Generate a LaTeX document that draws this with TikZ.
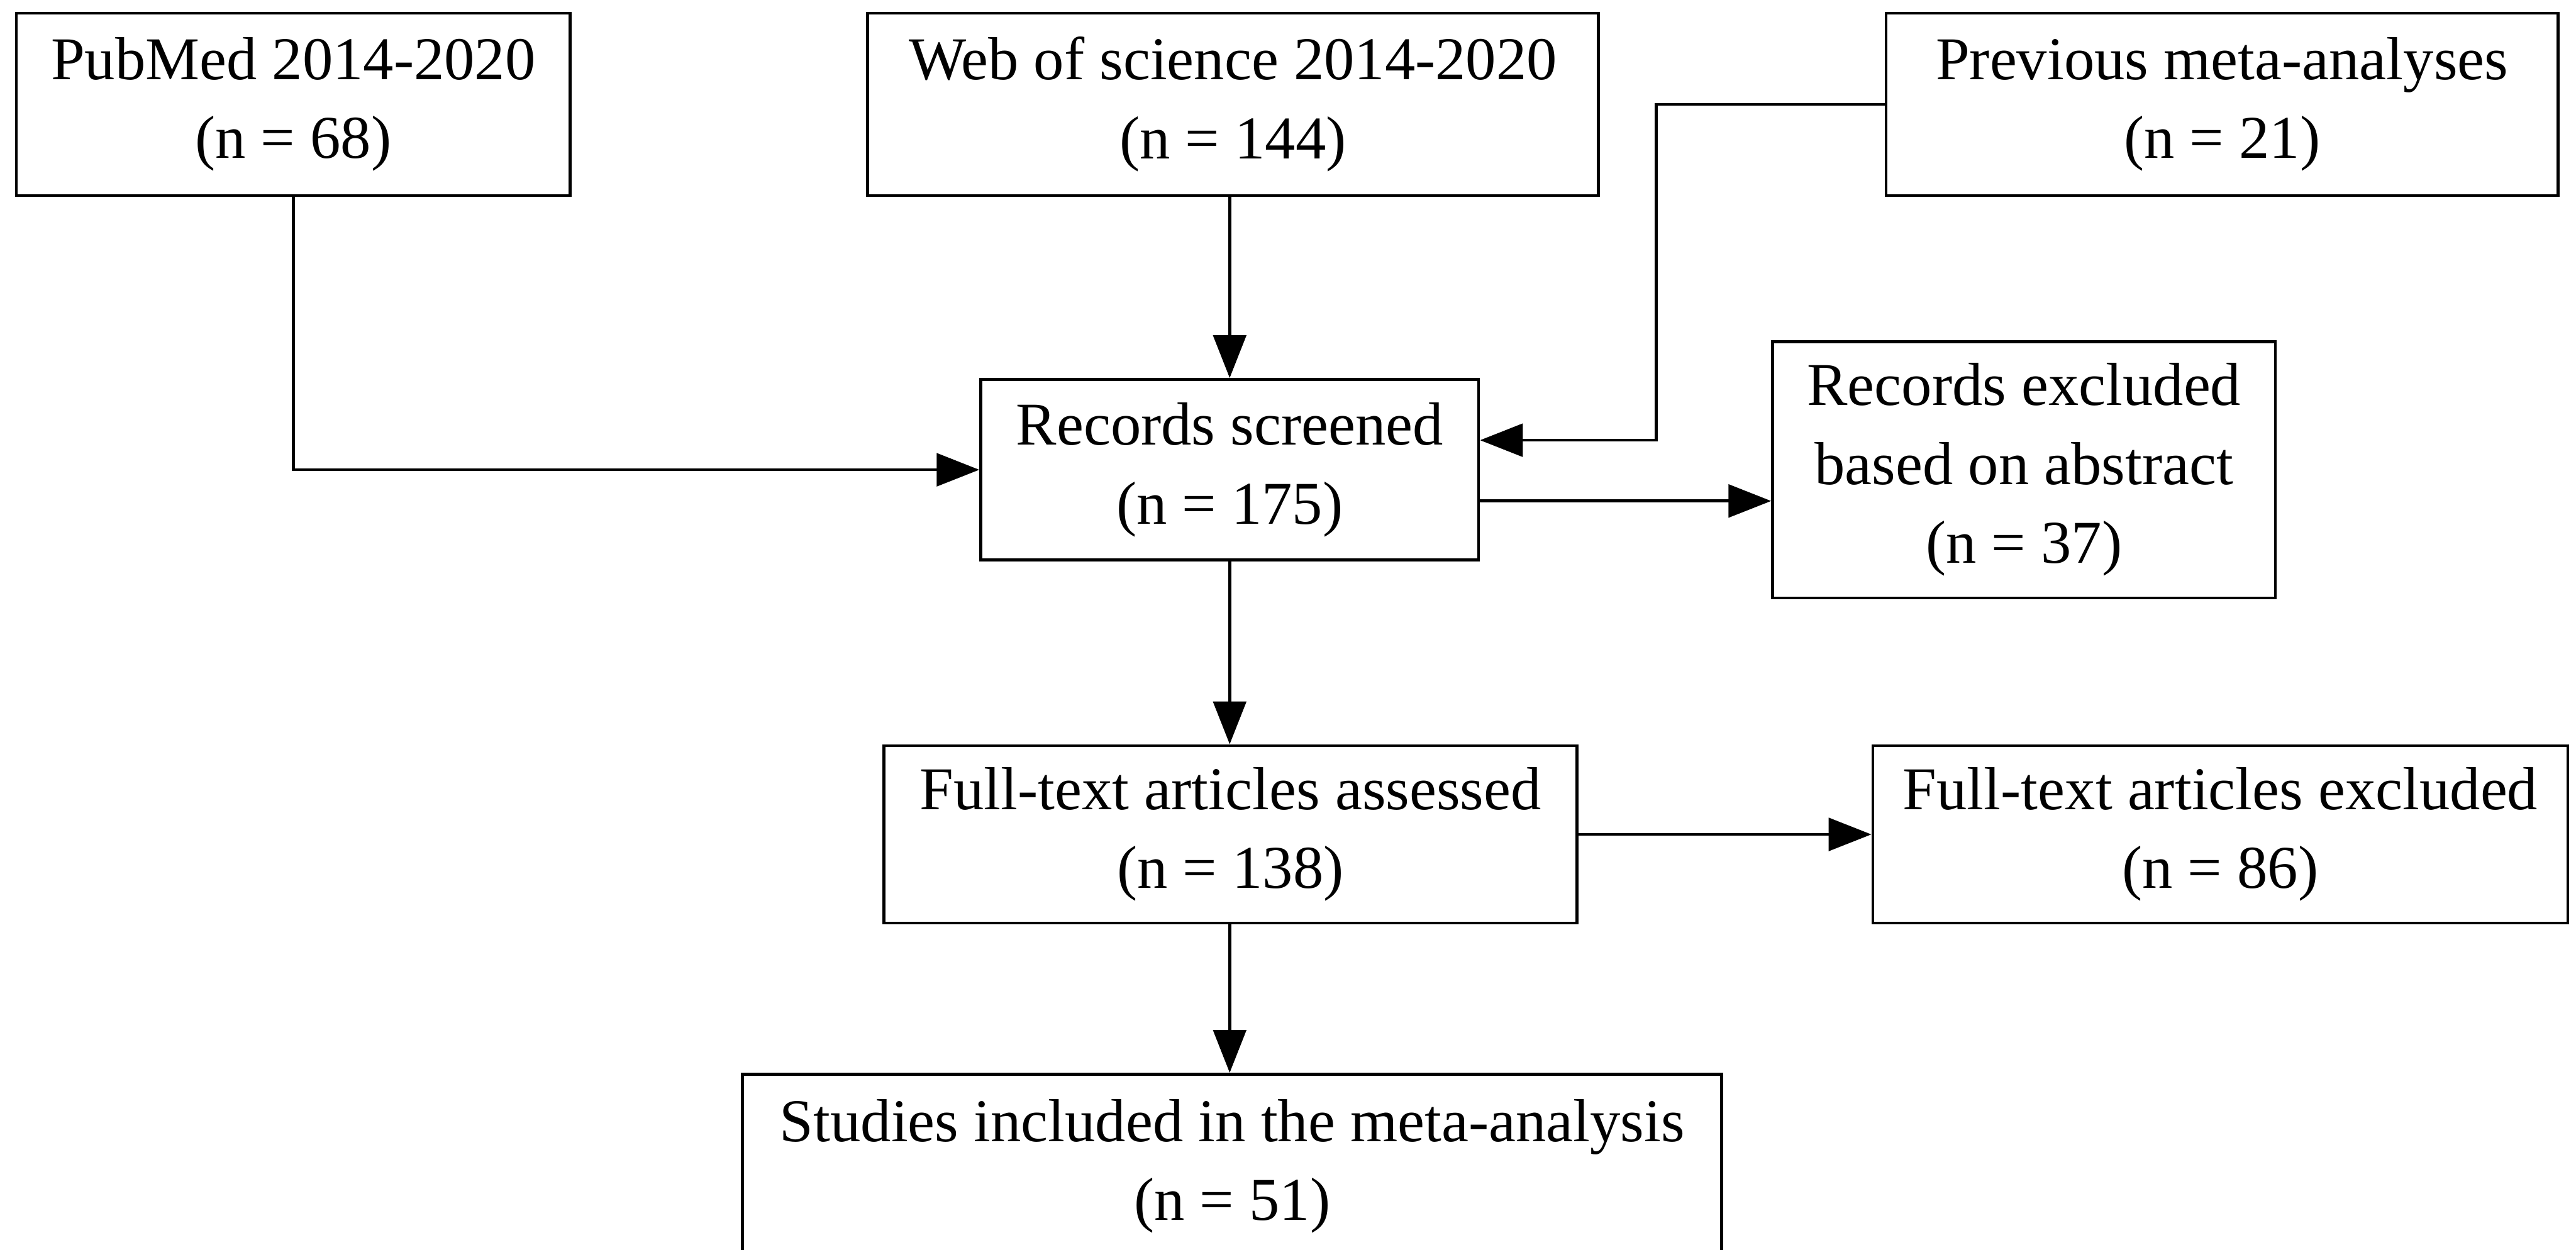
\documentclass[tikz,border=0pt]{standalone}
\usepackage{fontspec}
\setmainfont{Liberation Serif}
\usetikzlibrary{arrows.meta,positioning,calc}
\tikzset{
  >={Triangle[length=13pt,width=10pt]},
  box/.style={draw,line width=0.9pt,inner sep=0pt,align=center,font=\fontsize{18.5}{24}\selectfont},
  arr/.style={->,line width=0.9pt},
}

\begin{document}
\begin{tikzpicture}[x=0.5pt,y=-0.5pt]
\useasboundingbox (0,0) rectangle (1568,761);
\node[box,minimum width=168.5pt,minimum height=55.5pt] (pubmed) at (178.5,63.5) {PubMed 2014-2020\\(n = 68)};
\node[box,minimum width=222.5pt,minimum height=55.5pt] (wos) at (750.5,63.5) {Web of science 2014-2020\\(n = 144)};
\node[box,minimum width=204.5pt,minimum height=55.5pt] (prev) at (1352.5,63.5) {Previous meta-analyses\\(n = 21)};
\node[box,minimum width=151.5pt,minimum height=55pt] (screened) at (748.5,286) {Records screened\\(n = 175)};
\node[box,minimum width=153pt,minimum height=78pt] (absexcl) at (1232,286) {Records excluded\\based on abstract\\(n = 37)};
\node[box,minimum width=211pt,minimum height=54pt] (fulltext) at (749,508) {Full-text articles assessed\\(n = 138)};
\node[box,minimum width=211.5pt,minimum height=54pt] (fullexcl) at (1351.5,508) {Full-text articles excluded\\(n = 86)};
\node[box,minimum width=298pt,minimum height=56pt] (studies) at (750,710) {Studies included in the meta-analysis\\(n = 51)};

\coordinate (bend) at (1008,268);
\draw[arr] (pubmed.south) |- (screened.west);
\draw[arr] (screened.north |- wos.south) -- (screened.north);
\draw[arr] (prev.west) -| (bend) -- (screened.east |- bend);
\draw[arr] ([yshift=-9.5pt]screened.east) -- ([yshift=-9.5pt]screened.east -| absexcl.west);
\draw[arr] (screened.south) -- (screened.south |- fulltext.north);
\draw[arr] (fulltext.east) -- (fullexcl.west);
\draw[arr] (screened.south |- fulltext.south) -- (screened.south |- studies.north);
\end{tikzpicture}
\end{document}
